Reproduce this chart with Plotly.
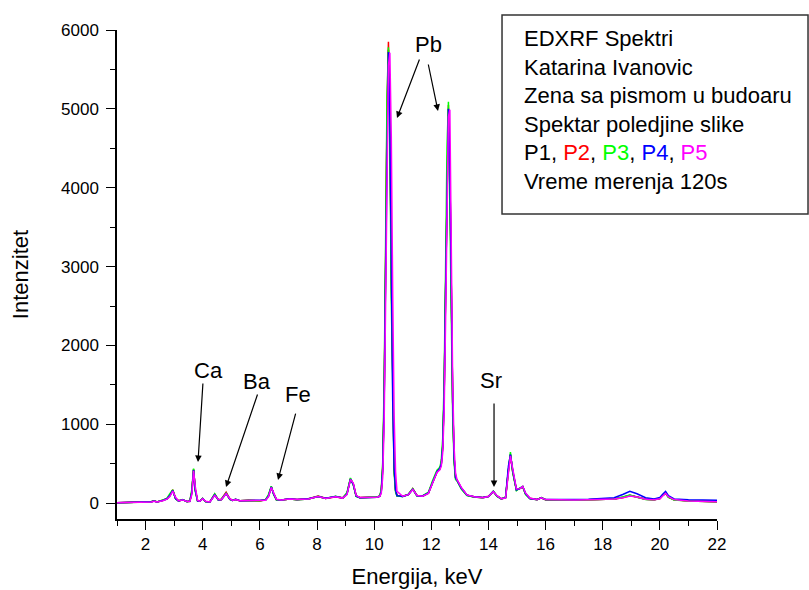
import plotly.graph_objects as go

# Energy grid (keV) shared by all five spectra
energy = [
    1.0, 1.5, 2.0, 2.2, 2.3, 2.4, 2.6, 2.75, 2.85, 2.95,
    3.05, 3.15, 3.3, 3.45, 3.55, 3.62, 3.68, 3.74, 3.82, 3.9,
    4.0, 4.1, 4.25, 4.42, 4.55, 4.65, 4.82, 4.95, 5.05, 5.15,
    5.3, 5.6, 6.0, 6.2, 6.3, 6.4, 6.48, 6.58, 6.75, 7.05,
    7.3, 7.7, 8.04, 8.3, 8.65, 8.9, 9.05, 9.17, 9.27, 9.37,
    9.5, 9.8, 10.1, 10.2, 10.25, 10.3, 10.35, 10.4, 10.45, 10.5,
    10.55, 10.6, 10.65, 10.7, 10.75, 10.8, 11.0, 11.2, 11.35, 11.5,
    11.7, 11.9, 12.05, 12.2, 12.3, 12.35, 12.4, 12.45, 12.5, 12.55,
    12.6, 12.65, 12.7, 12.75, 12.8, 12.85, 12.9, 13.05, 13.25, 13.5,
    13.8, 14.0, 14.17, 14.3, 14.45, 14.6, 14.7, 14.77, 14.85, 14.98,
    15.1, 15.2, 15.3, 15.45, 15.7, 15.85, 16.0, 16.5, 17.0, 17.5,
    18.0, 18.4, 18.7, 18.95, 19.2, 19.5, 19.8, 20.0, 20.1, 20.2,
    20.3, 20.5, 21.0, 21.5, 22.0,
]

# Counts per channel for each measuring point
p1 = [
    5, 8, 12, 18, 28, 15, 35, 55, 95, 165,
    60, 30, 45, 20, 25, 140, 430, 170, 30, 25,
    60, 20, 15, 110, 40, 45, 125, 50, 35, 50,
    30, 35, 30, 40, 90, 210, 120, 45, 40, 55,
    45, 55, 85, 60, 85, 65, 120, 310, 240, 90,
    70, 70, 75, 90, 154, 437, 1271, 2915, 4843, 5750,
    4843, 2915, 1271, 437, 160, 95, 85, 110, 180, 95,
    90, 130, 270, 400, 440, 500, 720, 1370, 2680, 4210,
    5000, 4230, 2630, 1260, 565, 320, 290, 190, 100, 80,
    70, 85, 150, 90, 55, 70, 420, 620, 400, 170,
    185, 210, 120, 60, 45, 70, 45, 40, 42, 45,
    50, 55, 75, 100, 80, 50, 45, 60, 100, 125,
    80, 45, 30, 25, 20,
]
p2 = [
    6, 9, 14, 20, 30, 16, 38, 58, 100, 170,
    62, 32, 42, 22, 27, 150, 425, 175, 32, 26,
    58, 22, 18, 115, 45, 50, 140, 55, 38, 48,
    32, 38, 32, 42, 95, 205, 125, 48, 42, 52,
    48, 58, 90, 62, 80, 68, 125, 305, 245, 95,
    72, 72, 78, 92, 160, 460, 1320, 3000, 4950, 5850,
    4920, 2960, 1290, 445, 165, 98, 88, 112, 185, 98,
    92, 128, 265, 395, 435, 495, 715, 1360, 2650, 4200,
    5050, 4250, 2640, 1265, 570, 325, 295, 192, 102, 82,
    72, 88, 148, 92, 57, 72, 410, 610, 405, 172,
    188, 208, 118, 62, 47, 68, 45, 40, 42, 44,
    48, 55, 70, 95, 78, 50, 44, 58, 98, 122,
    78, 44, 28, 22, 18,
]
p3 = [
    4, 8, 12, 18, 30, 16, 40, 65, 120, 170,
    55, 30, 48, 20, 30, 180, 440, 150, 28, 25,
    62, 20, 18, 120, 40, 50, 130, 50, 35, 50,
    30, 35, 30, 45, 110, 215, 110, 42, 42, 55,
    45, 55, 88, 60, 88, 65, 135, 320, 230, 85,
    70, 70, 78, 95, 180, 520, 1500, 3250, 5150, 5780,
    4600, 2600, 1100, 380, 140, 92, 85, 115, 185, 92,
    95, 140, 290, 420, 455, 540, 820, 1550, 2950, 4500,
    5090, 4000, 2400, 1100, 500, 300, 285, 180, 98, 80,
    70, 85, 152, 85, 55, 80, 450, 650, 390, 160,
    195, 212, 110, 58, 45, 72, 44, 40, 42, 45,
    50, 55, 80, 105, 75, 48, 44, 62, 108, 128,
    75, 42, 28, 24, 20,
]
p4 = [
    6, 9, 13, 18, 27, 16, 36, 56, 98, 160,
    60, 30, 44, 22, 26, 135, 420, 170, 30, 26,
    60, 22, 16, 108, 42, 46, 122, 52, 36, 50,
    32, 36, 32, 40, 88, 205, 122, 46, 42, 56,
    46, 56, 86, 62, 86, 66, 118, 305, 240, 92,
    70, 72, 76, 90, 150, 430, 1250, 2880, 4800, 5720,
    4880, 2960, 1300, 450, 165, 96, 86, 110, 178, 96,
    92, 130, 268, 400, 440, 498, 715, 1360, 2660, 4200,
    5000, 4250, 2660, 1280, 575, 325, 292, 192, 102, 82,
    72, 86, 150, 92, 56, 70, 470, 615, 420, 168,
    188, 212, 122, 60, 46, 70, 46, 44, 46, 50,
    56, 70, 110, 150, 120, 70, 55, 72, 115, 150,
    95, 55, 45, 40, 38,
]
p5 = [
    5, 8, 12, 17, 26, 16, 32, 52, 85, 155,
    75, 32, 42, 22, 22, 110, 410, 210, 35, 25,
    58, 25, 15, 100, 48, 44, 120, 58, 36, 48,
    32, 35, 30, 38, 80, 200, 135, 50, 40, 52,
    46, 55, 85, 60, 82, 65, 110, 300, 255, 100,
    72, 70, 75, 88, 130, 330, 1000, 2500, 4450, 5550,
    5710, 4650, 2650, 1100, 400, 150, 88, 108, 175, 98,
    90, 125, 260, 390, 425, 470, 640, 1150, 2300, 3850,
    4900, 4990, 3050, 1500, 700, 380, 300, 200, 105, 82,
    70, 84, 148, 95, 58, 65, 380, 600, 440, 180,
    185, 212, 130, 65, 45, 68, 46, 40, 42, 44,
    48, 54, 68, 92, 80, 50, 44, 56, 92, 125,
    82, 46, 28, 22, 18,
]

series_names = ["P1", "P2", "P3", "P4", "P5"]
series_values = [p1, p2, p3, p4, p5]
series_colors = ["#000000", "#ff0000", "#00ff00", "#0000ff", "#ff00ff"]

x_ticks = [2, 4, 6, 8, 10, 12, 14, 16, 18, 20, 22]
y_ticks = [0, 1000, 2000, 3000, 4000, 5000, 6000]

# Element lines: label, arrow tip (energy, counts), tail offset in px
element_arrows = [
    ("Ca", 3.835, 522, 5, -80),
    ("Ba", 4.815, 205, 32, -94),
    ("Fe", 6.635, 294, 18, -68),
    ("Sr", 14.196, 205, 0, -85),
    ("Pb", 10.80, 4884, 23, -60),
    ("Pb", 12.235, 4973, -10, -48),
]
element_labels = [
    ("Ca", 4.185, 1689),
    ("Ba", 5.90, 1538),
    ("Fe", 7.335, 1373),
    ("Sr", 14.09, 1550),
    ("Pb", 11.886, 5822),
]

FONT = "Liberation Sans, Arial, sans-serif"

fig = go.Figure()
for name, vals, col in zip(series_names, series_values, series_colors):
    fig.add_trace(go.Scatter(
        x=energy, y=vals, mode="lines", name=name,
        line=dict(color=col, width=1.5),
    ))

for _, ex, ey, tx, ty in element_arrows:
    fig.add_annotation(
        x=ex, y=ey, xref="x", yref="y", text="",
        showarrow=True, ax=tx, ay=ty, axref="pixel", ayref="pixel",
        arrowhead=2, arrowsize=1.1, arrowwidth=1.2, arrowcolor="#000000",
    )
for label, ex, ey in element_labels:
    fig.add_annotation(
        x=ex, y=ey, xref="x", yref="y", text=label, showarrow=False,
        font=dict(family=FONT, size=22, color="#000000"),
        xanchor="center", yanchor="middle",
    )

# Info box in the upper right corner
fig.add_shape(
    type="rect", xref="paper", yref="paper",
    x0=0.6417, x1=1.1517, y0=0.6237, y1=1.0307,
    line=dict(color="#333333", width=1.5), fillcolor="rgba(0,0,0,0)",
)
info_text = (
    "EDXRF Spektri<br>"
    "Katarina Ivanovic<br>"
    "Zena sa pismom u budoaru<br>"
    "Spektar poledjine slike<br>"
    "P1, <span style='color:#ff0000'>P2</span>, "
    "<span style='color:#00ff00'>P3</span>, "
    "<span style='color:#0000ff'>P4</span>, "
    "<span style='color:#ff00ff'>P5</span><br>"
    "Vreme merenja 120s"
)
fig.add_annotation(
    x=0.675, y=1.012, xref="paper", yref="paper", text=info_text,
    showarrow=False, align="left", xanchor="left", yanchor="top",
    font=dict(family=FONT, size=22, color="#000000"),
)

axis_common = dict(
    showline=True, linecolor="#000000", linewidth=1.5,
    ticks="outside", ticklen=9, tickwidth=1.3, tickcolor="#000000",
    showgrid=False, zeroline=False, mirror=False,
    tickfont=dict(family=FONT, size=17, color="#000000"),
)

fig.update_xaxes(
    range=[1, 22], tickvals=x_ticks,
    minor=dict(ticks="outside", ticklen=5, dtick=1, tick0=1,
               tickcolor="#000000", tickwidth=1.2),
    title=dict(text="Energija, keV", font=dict(family=FONT, size=22, color="#000000"),
               standoff=15),
    **axis_common,
)
fig.update_yaxes(
    range=[-200, 6000], tickvals=y_ticks, ticklabelstandoff=4,
    minor=dict(ticks="outside", ticklen=5, dtick=500, tick0=0,
               tickcolor="#000000", tickwidth=1.2),
    title=dict(text="Intenzitet", font=dict(family=FONT, size=22, color="#000000"),
               standoff=26),
    **axis_common,
)

fig.update_layout(
    width=809, height=590,
    margin=dict(l=117, r=92, t=30, b=71, autoexpand=False),
    plot_bgcolor="#ffffff", paper_bgcolor="#ffffff",
    showlegend=False,
    font=dict(family=FONT, color="#000000"),
)

fig.write_html("out.html")
